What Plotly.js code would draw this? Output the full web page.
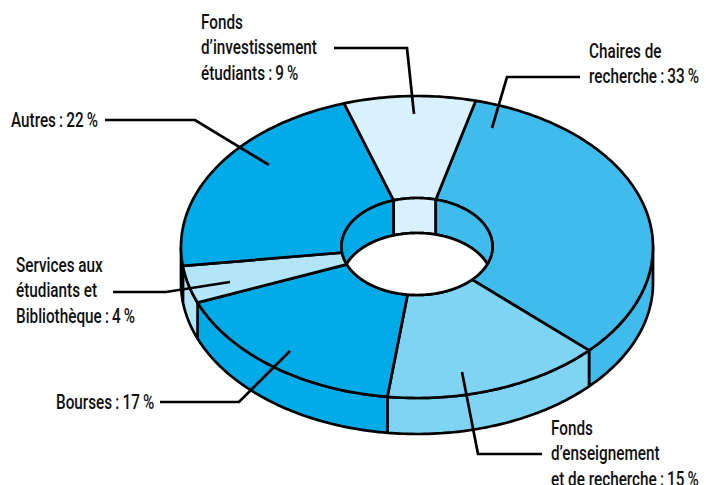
<!DOCTYPE html>
<html><head><meta charset="utf-8">
<script src="https://cdn.plot.ly/plotly-3.0.1.min.js"></script>
<style>html,body{margin:0;padding:0;background:#fff}#c{width:706px;height:485px}</style>
</head><body><div id="c"></div>
<script>
// Data, clockwise from the start angle
const categories = ["Chaires de recherche","Fonds d'enseignement et de recherche","Bourses","Services aux étudiants et Bibliothèque","Autres","Fonds d'investissement étudiants"];
const shares = [33,15,17,4,22,9];
const colors = ["#40bcec","#80d4f3","#00abe7","#b3e5f9","#00abe7","#d9f1fc"];
const labels = [
  "Chaires de<br>recherche\u2009:\u200933\u2009%",
  "Fonds<br>d’enseignement<br>et de recherche\u2009:\u200915\u2009%",
  "Bourses\u2009:\u200917\u2009%",
  "Services aux<br>étudiants et<br>Bibliothèque\u2009:\u20094\u2009%",
  "Autres\u2009:\u200922\u2009%",
  "Fonds<br>d’investissement<br>étudiants\u2009:\u20099\u2009%"
];
const labelX = [588,550,55,15,10,200];
const labelY = [39,415.5,390,253,108,10];
const leaders = [
  [[580,507,492],[77,77,128]],
  [[542,478,462],[454,454,372]],
  [[160,239,290],[402,402,351]],
  [[113,166,230],[292,292,282]],
  [[105,195,269],[120,120,165]],
  [[334,407,414],[48,48,114]]
];
// Projection of the disc
const cx=417, cy=247, rx=236, ry=151, depth=36;
const hcy=246.5, hrx=75.5, hry=48.5, hdepth=35;
const startAngle=14.4;
const LINE=2.7, INK="#000", TEXT_SCALE=0.785;
const rad=d=>d*Math.PI/180;
function range(a,b){const n=Math.max(2,Math.ceil(Math.abs(b-a))+1),o=[];for(let i=0;i<n;i++)o.push(a+(b-a)*i/(n-1));return o;}
const ox=t=>cx+rx*Math.sin(rad(t)), oy=(t,dz=0)=>cy-ry*Math.cos(rad(t))+dz;
const hx=t=>cx+hrx*Math.sin(rad(t)), hy=t=>hcy-hry*Math.cos(rad(t));
const hyLow=t=>hcy+hdepth-hry*Math.cos(rad(t));
function poly(x,y,fill,name){x=x.concat(x[0]);y=y.concat(y[0]);
  return {type:"scatter",mode:"lines",x,y,fill:"toself",fillcolor:fill,name,
    line:{color:INK,width:LINE,simplify:false},hoverinfo:"skip",showlegend:false};}
const slices=[];let acc=startAngle;
shares.forEach((v,i)=>{const a=acc,b=acc+v*3.6;slices.push([a,b,i]);acc=b;});
const traces=[];
// outer wall (front half only)
slices.forEach(([a,b,i])=>{const l=Math.max(a,90),h=Math.min(b,270);if(h<=l)return;
  const r=range(l,h),x=r.map(ox),y=r.map(t=>oy(t)),rr=r.slice().reverse();
  traces.push(poly(x.concat(rr.map(ox)),y.concat(rr.map(t=>oy(t,depth))),colors[i],categories[i]));});
// top face
slices.forEach(([a,b,i])=>{const r=range(a,b),rr=r.slice().reverse();
  traces.push(poly(r.map(ox).concat(rr.map(hx)),r.map(t=>oy(t)).concat(rr.map(hy)),colors[i],categories[i]));});
// inner wall: back half of the hole, the end slices run on to the corners of the lens
const corner=90+Math.asin(hdepth/2/hry)*180/Math.PI, lim=180-corner;
const clamp=t=>Math.max(-lim,Math.min(lim,t));
const segs=[];
slices.forEach(([a,b,i])=>{[0,360].forEach(off=>{const l=Math.max(a-off,-90),h=Math.min(b-off,90);if(h>l)segs.push([l,h,i]);});});
segs.sort((p,q)=>p[0]-q[0]);
segs[0][0]=-corner; segs[segs.length-1][1]=corner;
segs.forEach(([l,h,i])=>{const r=range(l,h),low=range(clamp(h),clamp(l));
  traces.push(poly(r.map(hx).concat(low.map(hx)),r.map(hy).concat(low.map(hyLow)),colors[i],categories[i]));});
// see-through lens
{const r=range(corner,360-corner),low=range(-lim,lim);
 traces.push(poly(r.map(hx).concat(low.map(hx)),r.map(hy).concat(low.map(hyLow)),"#ffffff","trou"));}
// leader lines
leaders.forEach(l=>traces.push({type:"scatter",mode:"lines",x:l[0],y:l[1],line:{color:INK,width:LINE,simplify:false},hoverinfo:"skip",showlegend:false}));
const annotations=labels.map((t,i)=>({text:t,x:labelX[i],y:labelY[i],xref:"x",yref:"y",xanchor:"left",yanchor:"top",align:"left",showarrow:false,borderpad:0,
  font:{family:"Roboto,sans-serif",size:19.5,weight:500,color:"#111"}}));
Plotly.newPlot("c",traces,{width:706,height:485,margin:{l:0,r:0,t:0,b:0},paper_bgcolor:"#fff",plot_bgcolor:"#fff",showlegend:false,annotations,
  xaxis:{range:[0,706],visible:false,fixedrange:true},yaxis:{range:[485,0],visible:false,fixedrange:true}},{displayModeBar:false,staticPlot:true}).then(()=>{
  document.querySelectorAll("#c text.annotation-text").forEach(el=>{
    const b=el.getBBox(), old=el.getAttribute("transform")||"";
    el.setAttribute("transform",`${old} translate(${b.x},0) scale(${TEXT_SCALE},1) translate(${-b.x},0)`);
  });
});
</script></body></html>
